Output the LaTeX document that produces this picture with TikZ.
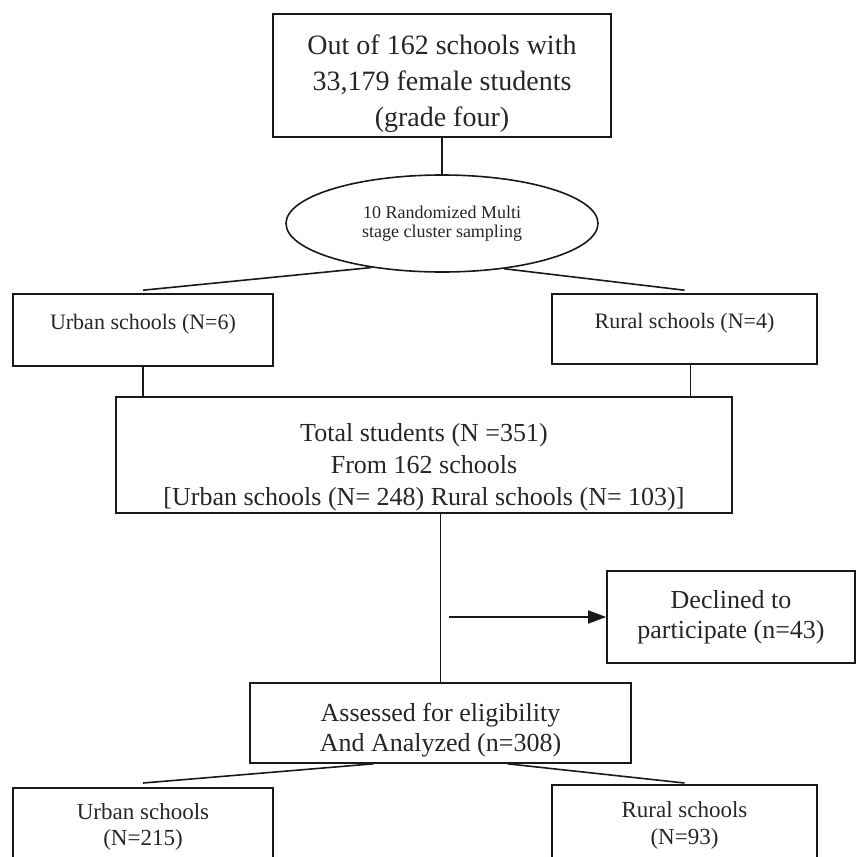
\documentclass[tikz,border=0pt]{standalone}
\usepackage{fontspec}
\setmainfont{Liberation Serif}
\usetikzlibrary{shapes.geometric,arrows.meta}

\newcommand{\lift}[1]{\rule{0pt}{#1}}

\begin{document}
\begin{tikzpicture}[x=1pt,y=-1pt,
        box/.style={draw=black!90, line width=1.6pt, text=black!85, align=center, inner sep=0pt},
        link/.style={black!90, line width=1.6pt}]
        \useasboundingbox (0,0) rectangle (856,857);
        \clip (0,0) rectangle (856,857);

        % top of the flow
        \node[box, minimum width=338pt, minimum height=123pt, font=\fontsize{28}{36}\selectfont] (pop) at (442,75.5) {\lift{36pt}Out of 162 schools with\\33,179 female students\\(grade four)};
        \node[box, ellipse, minimum width=312pt, minimum height=97pt, font=\fontsize{18}{19.5}\selectfont] (sample) at (442,223.5) {10 Randomized Multi\\stage cluster sampling};

        \node[box, minimum width=260pt, minimum height=72pt, text depth=17pt, font=\fontsize{22}{26}\selectfont] (urbanA) at (143,330) {Urban schools (N=6)};
        \node[box, minimum width=265pt, minimum height=70pt, text depth=17pt, font=\fontsize{22}{26}\selectfont] (ruralA) at (684.5,329) {Rural schools (N=4)};

        \node[box, minimum width=616pt, minimum height=116pt, font=\fontsize{26}{32}\selectfont] (total) at (424,455) {\lift{42pt}Total students (N =351)\\From 162 schools\\{[}Urban schools (N= 248) Rural schools (N= 103)]};

        \node[box, minimum width=248pt, minimum height=92pt, font=\fontsize{26}{30}\selectfont] (declined) at (731,617) {Declined to\\participate (n=43)};
        \node[box, minimum width=381pt, minimum height=80pt, font=\fontsize{26}{30}\selectfont] (assessed) at (440.5,723) {\lift{32pt}Assessed for eligibility\\And Analyzed (n=308)};

        % bottom boxes run off the page
        \node[box, anchor=north, minimum width=260pt, inner ysep=16pt, font=\fontsize{23}{26}\selectfont] (urbanB) at (143,787) {Urban schools\\(N=215)};
        \node[box, anchor=north, minimum width=265pt, inner ysep=17pt, font=\fontsize{23}{27}\selectfont] (ruralB) at (684.5,784) {Rural schools\\(N=93)};

        % connectors
        \draw[link] (pop.south) -- (sample.north);
        \draw[link] (sample.212) -- ([yshift=3pt]urbanA.north);
        \draw[link] (sample.324) -- ([yshift=3pt]ruralA.north);

        \draw[link] (urbanA.south) -- (urbanA.south |- total.north);
        \path (ruralA.south) ++(6,0) coordinate (ruralfoot);
        \draw[link] (ruralfoot) -- (ruralfoot |- total.north);

        \draw[link] (total.south -| assessed.north) -- (assessed.north);
        \path (assessed.north |- declined.west) ++(8,0) coordinate (gate);
        \draw[link, -{Triangle[length=18pt,width=13pt]}] (gate) -- (declined.west);

        \draw[link] ([xshift=-67pt]assessed.south) -- ([yshift=4pt]urbanB.north);
        \draw[link] ([xshift=67pt]assessed.south) -- ([yshift=1pt]ruralB.north);
    \end{tikzpicture}
\end{document}
